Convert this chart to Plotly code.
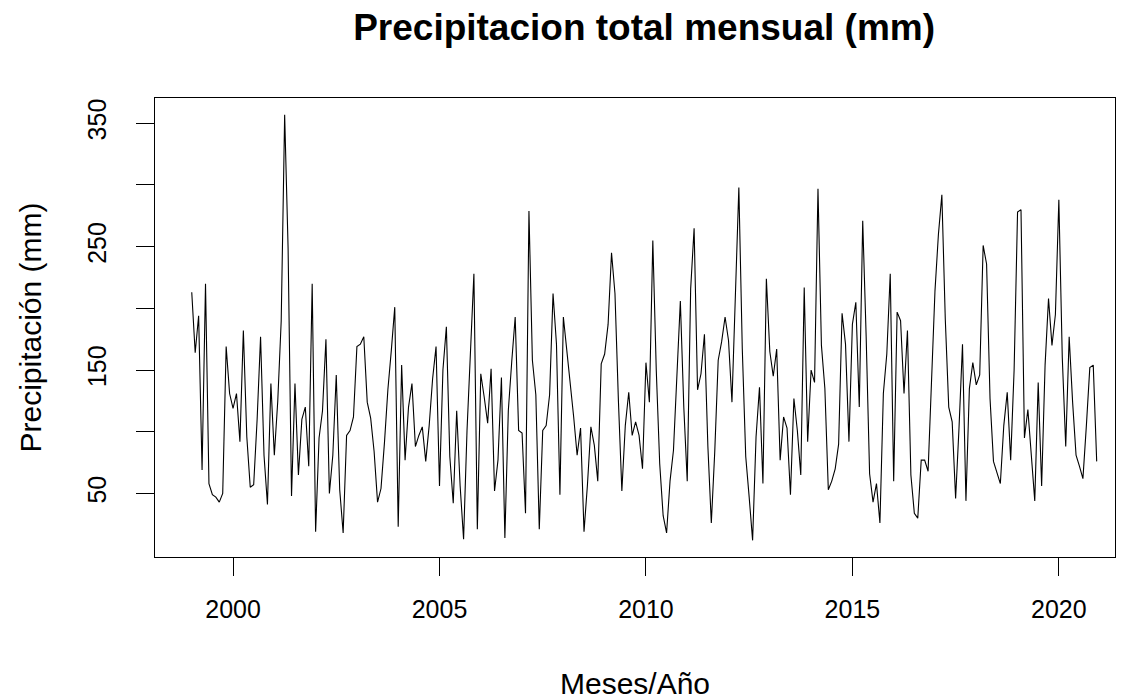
import plotly.graph_objects as go

# Monthly precipitation (mm), January..December of each year
p1999 = [213, 164, 194, 69, 220, 58, 49, 47, 43, 50, 169, 131]
p2000 = [119, 131, 92, 182, 96, 55, 57, 110, 177, 81, 41, 139]
p2001 = [81, 125, 190, 357, 249, 48, 139, 65, 110, 120, 72, 220]
p2002 = [19, 95, 117, 175, 50, 81, 146, 53, 18, 97, 101, 112]
p2003 = [169, 171, 177, 124, 111, 84, 43, 54, 91, 134, 166, 201]
p2004 = [23, 154, 77, 120, 139, 88, 97, 104, 76, 105, 143, 169]
p2005 = [56, 150, 185, 80, 42, 117, 56, 13, 101, 169, 228, 21]
p2006 = [147, 128, 107, 151, 52, 77, 144, 14, 117, 157, 193, 101]
p2007 = [99, 34, 279, 158, 130, 21, 101, 105, 130, 212, 171, 49]
p2008 = [193, 166, 140, 112, 81, 103, 19, 57, 104, 89, 60, 155]
p2009 = [163, 187, 245, 212, 125, 52, 105, 132, 97, 108, 97, 70]
p2010 = [156, 124, 255, 150, 74, 32, 18, 60, 85, 150, 206, 120]
p2011 = [60, 216, 265, 134, 147, 179, 88, 26, 84, 158, 173, 193]
p2012 = [174, 124, 205, 298, 167, 80, 47, 12, 96, 136, 58, 224]
p2013 = [165, 145, 167, 77, 112, 103, 49, 127, 101, 65, 217, 92]
p2014 = [150, 140, 297, 170, 135, 53, 60, 70, 90, 196, 171, 92]
p2015 = [187, 205, 120, 271, 177, 66, 43, 58, 26, 131, 163, 228]
p2016 = [60, 197, 190, 131, 182, 65, 34, 30, 77, 77, 68, 139]
p2017 = [214, 260, 292, 191, 120, 108, 46, 104, 171, 44, 135, 156]
p2018 = [138, 146, 251, 236, 127, 76, 66, 58, 105, 132, 77, 150]
p2019 = [278, 280, 95, 118, 81, 44, 140, 56, 154, 208, 170, 195]
p2020 = [288, 160, 88, 177, 124, 81, 72, 62, 105, 152, 154, 76]

years = list(range(1999, 2021))
yearly = [p1999, p2000, p2001, p2002, p2003, p2004, p2005, p2006, p2007, p2008,
          p2009, p2010, p2011, p2012, p2013, p2014, p2015, p2016, p2017, p2018,
          p2019, p2020]

x_vals = []
y_vals = []
for yr, vals in zip(years, yearly):
    for m, v in enumerate(vals):
        x_vals.append(yr + m / 12.0)
        y_vals.append(v)

x_ticks = [2000, 2005, 2010, 2015, 2020]
y_ticks = [50, 100, 150, 200, 250, 300, 350]
y_ticktext = ["50", "", "150", "", "250", "", "350"]

FONT = "Liberation Sans, Arial, Helvetica, sans-serif"

fig = go.Figure()
fig.add_trace(go.Scatter(x=x_vals, y=y_vals, mode="lines",
                         line=dict(color="black", width=1.1),
                         showlegend=False, hoverinfo="skip"))

fig.update_layout(
    width=1128, height=700,
    paper_bgcolor="white", plot_bgcolor="white",
    margin=dict(l=155, r=13, t=98, b=143),
    font=dict(family=FONT, size=25, color="black"),
    title=dict(text="<b>Precipitacion total mensual (mm)</b>",
               x=0.571, xanchor="center", y=0.962, yanchor="middle",
               yref="container", font=dict(size=37, family=FONT, color="black")),
    xaxis=dict(range=[1998.11, 2021.36], tickvals=x_ticks,
               ticktext=[str(t) for t in x_ticks], automargin=False,
               showgrid=False, zeroline=False, showline=True, linecolor="black",
               linewidth=1, mirror=True, ticks="outside", ticklen=18,
               tickcolor="black", tickwidth=1, ticklabelstandoff=12,
               title=dict(text="Meses/Año", standoff=50),
               tickfont=dict(size=25)),
    yaxis=dict(range=[-1.5, 370.5], tickvals=y_ticks, ticktext=y_ticktext,
               automargin=False,
               showgrid=False, zeroline=False, showline=True, linecolor="black",
               linewidth=1, mirror=True, ticks="outside", ticklen=18,
               tickcolor="black", tickwidth=1, tickangle=-90, ticklabelstandoff=20,
               title=dict(text="Precipitación (mm)", standoff=32),
               tickfont=dict(size=25)),
)

fig.write_html("out.html")
